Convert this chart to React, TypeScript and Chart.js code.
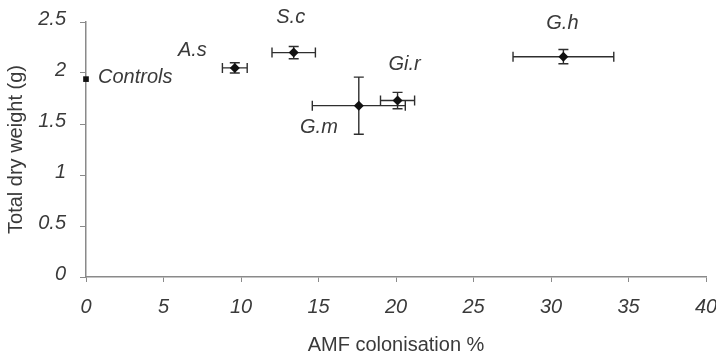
import React, { useEffect, useRef } from "react";
import { Chart, registerables } from "chart.js";

Chart.register(...registerables);

const groupLabels = ["Controls", "A.s", "S.c", "G.m", "Gi.r", "G.h"];
const colonisation = [0, 9.6, 13.4, 17.6, 20.1, 30.8];
const dryWeight = [1.94, 2.05, 2.2, 1.68, 1.73, 2.16];
const colonisationErr = [0, 0.8, 1.4, 3.0, 1.1, 3.25];
const dryWeightErr = [0, 0.05, 0.06, 0.28, 0.08, 0.07];
const xTicks = [0, 5, 10, 15, 20, 25, 30, 35, 40];
const yTicks = [0, 0.5, 1, 1.5, 2, 2.5];

// label placement (pixels relative to point): dx, dy, align
const labelPlacement: [number, number, CanvasTextAlign][] = [
  [12, -2, "left"],
  [-28, -17, "right"],
  [-3, -35, "center"],
  [-21, 22, "right"],
  [7, -36, "center"],
  [-1, -33, "center"],
];

const FONT = "'Liberation Sans', Arial, sans-serif";
const TEXT = "#3a3a3a";
const AXIS = "#8a8a8a";

const errorBarPlugin = {
  id: "errorBars",
  beforeDatasetsDraw(chart: any) {
    const { ctx, scales } = chart;
    const xs = scales.x;
    const ys = scales.y;
    ctx.save();
    ctx.strokeStyle = "#2e2e2e";
    ctx.lineWidth = 1.4;
    const cap = 5;
    for (let i = 0; i < colonisation.length; i++) {
      const cx = xs.getPixelForValue(colonisation[i]);
      const cy = ys.getPixelForValue(dryWeight[i]);
      if (colonisationErr[i] > 0) {
        const x1 = xs.getPixelForValue(colonisation[i] - colonisationErr[i]);
        const x2 = xs.getPixelForValue(colonisation[i] + colonisationErr[i]);
        ctx.beginPath();
        ctx.moveTo(x1, cy);
        ctx.lineTo(x2, cy);
        ctx.moveTo(x1, cy - cap);
        ctx.lineTo(x1, cy + cap);
        ctx.moveTo(x2, cy - cap);
        ctx.lineTo(x2, cy + cap);
        ctx.stroke();
      }
      if (dryWeightErr[i] > 0) {
        const y1 = ys.getPixelForValue(dryWeight[i] - dryWeightErr[i]);
        const y2 = ys.getPixelForValue(dryWeight[i] + dryWeightErr[i]);
        ctx.beginPath();
        ctx.moveTo(cx, y1);
        ctx.lineTo(cx, y2);
        ctx.moveTo(cx - cap, y1);
        ctx.lineTo(cx + cap, y1);
        ctx.moveTo(cx - cap, y2);
        ctx.lineTo(cx + cap, y2);
        ctx.stroke();
      }
    }
    ctx.restore();
  },
  afterDatasetsDraw(chart: any) {
    const { ctx, scales } = chart;
    ctx.save();
    ctx.fillStyle = TEXT;
    ctx.font = `italic 20px ${FONT}`;
    ctx.textBaseline = "middle";
    for (let i = 0; i < groupLabels.length; i++) {
      const cx = scales.x.getPixelForValue(colonisation[i]);
      const cy = scales.y.getPixelForValue(dryWeight[i]);
      const [dx, dy, align] = labelPlacement[i];
      ctx.textAlign = align;
      ctx.fillText(groupLabels[i], cx + dx, cy + dy);
    }
    ctx.restore();
  },
};

export default function App() {
  const canvasRef = useRef<HTMLCanvasElement | null>(null);

  useEffect(() => {
    if (!canvasRef.current) return;
    const chart = new Chart(canvasRef.current, {
      type: "scatter",
      data: {
        datasets: [
          {
            label: "Total dry weight",
            data: colonisation.map((x, i) => ({ x, y: dryWeight[i] })),
            pointStyle: (c: any) => (c.dataIndex === 0 ? "rect" : "rectRot"),
            pointRadius: (c: any) => (c.dataIndex === 0 ? 4 : 5),
            backgroundColor: "#111",
            borderColor: "#111",
            borderWidth: 0,
            clip: false as any,
          },
        ],
      },
      options: {
        animation: false,
        responsive: true,
        maintainAspectRatio: false,
        layout: { padding: { top: 22, right: 10, left: 0, bottom: 0 } },
        plugins: {
          legend: { display: false },
          tooltip: { enabled: false },
        },
        scales: {
          x: {
            type: "linear",
            min: 0,
            max: 40,
            afterBuildTicks: (s: any) => {
              s.ticks = xTicks.map((v) => ({ value: v }));
            },
            afterFit: (s: any) => {
              s.height = 78;
              s.paddingLeft = 0;
              s.paddingRight = 0;
            },
            grid: {
              drawOnChartArea: false,
              drawTicks: true,
              tickLength: 5,
              color: AXIS,
            },
            border: { color: AXIS, width: 1.5 },
            ticks: {
              color: TEXT,
              padding: 13,
              maxRotation: 0,
              callback: (v: any) => String(v),
              font: { family: FONT, size: 20, style: "italic" },
            },
            title: {
              display: true,
              text: "AMF colonisation %",
              color: TEXT,
              font: { family: FONT, size: 20 },
              padding: { top: 9, bottom: -2 },
            },
          },
          y: {
            type: "linear",
            min: 0,
            max: 2.5,
            afterBuildTicks: (s: any) => {
              s.ticks = yTicks.map((v) => ({ value: v }));
            },
            afterFit: (s: any) => {
              s.width = 86;
              s.paddingTop = 0;
              s.paddingBottom = 0;
            },
            grid: {
              drawOnChartArea: false,
              drawTicks: true,
              tickLength: 6,
              color: AXIS,
            },
            border: { color: AXIS, width: 1.5 },
            ticks: {
              color: TEXT,
              padding: 14,
              labelOffset: -3,
              callback: (v: any) => String(v),
              font: { family: FONT, size: 20, style: "italic" },
            },
            title: {
              display: true,
              text: "Total dry weight (g)",
              color: TEXT,
              font: { family: FONT, size: 20 },
              padding: { bottom: 0 },
            },
          },
        },
      },
      plugins: [errorBarPlugin],
    });
    return () => chart.destroy();
  }, []);

  return (
    <div
      style={{
        position: "fixed",
        left: 0,
        top: 0,
        width: 716,
        height: 355,
        background: "#fff",
      }}
    >
      <canvas ref={canvasRef} />
    </div>
  );
}
